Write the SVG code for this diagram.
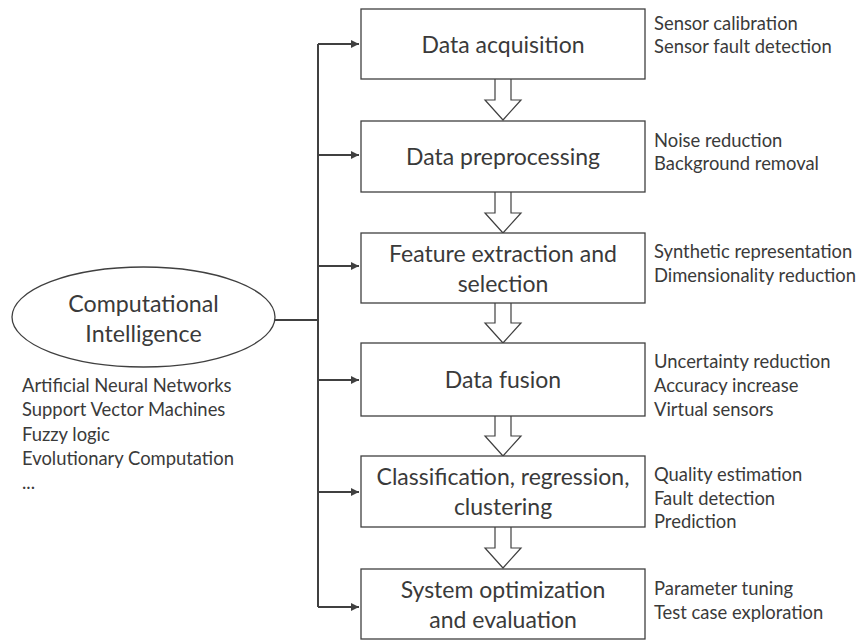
<svg xmlns="http://www.w3.org/2000/svg" width="861" height="641" viewBox="0 0 861 641">
<defs>
<marker id="ah" viewBox="0 0 8 8" refX="8" refY="4" markerWidth="4" markerHeight="4" orient="auto" markerUnits="strokeWidth">
<path d="M0,0 L8,4 L0,8 z" fill="#404040"/>
</marker>
</defs>
<style>
.box{fill:#fff;stroke:#404040;stroke-width:1.3}
.t{font-family:Lato,"Open Sans",sans-serif;fill:#3a3a3a}
.bt{font-size:23px;text-anchor:middle}
.st{font-size:18.4px}
.con{fill:none;stroke:#404040;stroke-width:2}
.blk{fill:#fff;stroke:#404040;stroke-width:1.2}
</style>
<rect width="861" height="641" fill="#fff"/>
<g id="connectors">
<path class="con" d="M275,320 H318"/>
<path class="con" d="M318,44 V607"/>
<path class="con" d="M318,44 H359" marker-end="url(#ah)"/>
<path class="con" d="M318,155 H359" marker-end="url(#ah)"/>
<path class="con" d="M318,266 H359" marker-end="url(#ah)"/>
<path class="con" d="M318,380 H359" marker-end="url(#ah)"/>
<path class="con" d="M318,492 H359" marker-end="url(#ah)"/>
<path class="con" d="M318,607 H359" marker-end="url(#ah)"/>
<path class="blk" d="M495,79 V100 H485 L503,120 L521,100 H511 V79"/>
<path class="blk" d="M495,192 V213 H485 L503,233 L521,213 H511 V192"/>
<path class="blk" d="M495,303 V323 H485 L503,343 L521,323 H511 V303"/>
<path class="blk" d="M495,416 V436 H485 L503,456 L521,436 H511 V416"/>
<path class="blk" d="M495,527 V548 H485 L503,568 L521,548 H511 V527"/>
</g>
<g id="ci">
<ellipse cx="143.5" cy="317" rx="131.5" ry="50" fill="#fff" stroke="#404040" stroke-width="1.3"/>
<text class="t" x="143.5" y="312" font-size="23.2" text-anchor="middle">Computational</text>
<text class="t" x="143.5" y="342" font-size="23.2" text-anchor="middle">Intelligence</text>
</g>
<g id="ci-list" class="t st">
<text x="22" y="392">Artificial Neural Networks</text>
<text x="22" y="416">Support Vector Machines</text>
<text x="22" y="441">Fuzzy logic</text>
<text x="22" y="465">Evolutionary Computation</text>
<text x="22" y="489">...</text>
</g>
<g id="n1">
<rect class="box" x="361" y="9" width="284" height="70"/>
<text class="t bt" x="503" y="53">Data acquisition</text>
<text class="t st" x="654" y="30">Sensor calibration</text>
<text class="t st" x="654" y="53">Sensor fault detection</text>
</g>
<g id="n2">
<rect class="box" x="361" y="121" width="284" height="71"/>
<text class="t bt" x="503" y="165">Data preprocessing</text>
<text class="t st" x="654" y="147">Noise reduction</text>
<text class="t st" x="654" y="170">Background removal</text>
</g>
<g id="n3">
<rect class="box" x="361" y="233" width="284" height="70"/>
<text class="t bt" x="503" y="262">Feature extraction and</text>
<text class="t bt" x="503" y="292">selection</text>
<text class="t st" x="654" y="258">Synthetic representation</text>
<text class="t st" x="654" y="282">Dimensionality reduction</text>
</g>
<g id="n4">
<rect class="box" x="361" y="343" width="284" height="73"/>
<text class="t bt" x="503" y="388">Data fusion</text>
<text class="t st" x="654" y="368">Uncertainty reduction</text>
<text class="t st" x="654" y="392">Accuracy increase</text>
<text class="t st" x="654" y="416">Virtual sensors</text>
</g>
<g id="n5">
<rect class="box" x="361" y="456" width="284" height="71"/>
<text class="t bt" x="503" y="485">Classification, regression,</text>
<text class="t bt" x="503" y="515">clustering</text>
<text class="t st" x="654" y="481">Quality estimation</text>
<text class="t st" x="654" y="505">Fault detection</text>
<text class="t st" x="654" y="528">Prediction</text>
</g>
<g id="n6">
<rect class="box" x="361" y="569" width="284" height="70"/>
<text class="t bt" x="503" y="598">System optimization</text>
<text class="t bt" x="503" y="628">and evaluation</text>
<text class="t st" x="654" y="595">Parameter tuning</text>
<text class="t st" x="654" y="619">Test case exploration</text>
</g>
</svg>
